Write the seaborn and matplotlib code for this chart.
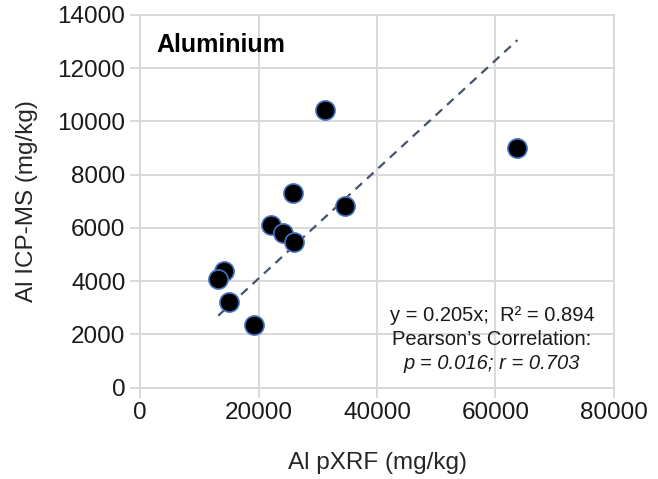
import matplotlib
matplotlib.use("Agg")
import matplotlib.pyplot as plt
import numpy as np
import pandas as pd
import seaborn as sns

# Al pXRF vs Al ICP-MS (mg/kg)
al_pxrf = [31200, 63700, 25800, 34600, 22100, 24100, 26000, 14100, 13200, 15100, 19300]
al_icpms = [10450, 9000, 7320, 6820, 6100, 5820, 5480, 4400, 4100, 3230, 2350]
slope = 0.205  # forced-through-zero fit

sns.set_theme(style="white")
plt.rcParams['font.family'] = ['Liberation Sans', 'DejaVu Sans']

df = pd.DataFrame({"pxrf": al_pxrf, "icpms": al_icpms})

fig = plt.figure(figsize=(6.58, 4.79), dpi=100)
ax = fig.add_axes([0.2128, 0.1906, 0.7203, 0.7781])

grid_col = '#d9d9d9'
ax.set_axisbelow(True)
ax.grid(True, color=grid_col, linewidth=1.4)

# trend line over the data range
fit_x = np.array([min(al_pxrf), max(al_pxrf)])
ax.plot(fit_x, slope * fit_x, linestyle=(0, (4, 3)), color='#44546a', linewidth=1.6, zorder=2)

sns.scatterplot(data=df, x="pxrf", y="icpms", ax=ax, s=190, color='black',
                edgecolor='#4472c4', linewidth=1.2, zorder=3)

ax.set_xlim(0, 80000)
ax.set_ylim(0, 14000)
ax.set_xticks(range(0, 80001, 20000))
ax.set_yticks(range(0, 14001, 2000))
ax.tick_params(axis='both', labelsize=17.5, colors='#1a1a1a', length=7, width=1.4,
               direction='out', left=True, bottom=True)
ax.tick_params(axis='both', color=grid_col)
for sp in ax.spines.values():
    sp.set_color(grid_col)
    sp.set_linewidth(1.4)

ax.set_xlabel("Al pXRF (mg/kg)", fontsize=17.5, color='#262626', labelpad=20)
ax.set_ylabel("Al ICP-MS (mg/kg)", fontsize=17.5, color='#262626', labelpad=14)

ax.text(0.034, 0.9195, "Aluminium", transform=ax.transAxes, fontsize=18,
        fontweight='bold', ha='left', va='center', color='black')

ax.text(0.7426, 0.195, "y = 0.205x;  R² = 0.894", transform=ax.transAxes,
        fontsize=14.5, ha='center', va='center', color='#1a1a1a')
ax.text(0.7426, 0.128, "Pearson\u2019s Correlation:", transform=ax.transAxes,
        fontsize=14.5, ha='center', va='center', color='#1a1a1a')
ax.text(0.7426, 0.0636, "p = 0.016; r = 0.703", transform=ax.transAxes,
        fontsize=14.5, ha='center', va='center', style='italic', color='#1a1a1a')

fig.savefig("out.png", dpi=100)
